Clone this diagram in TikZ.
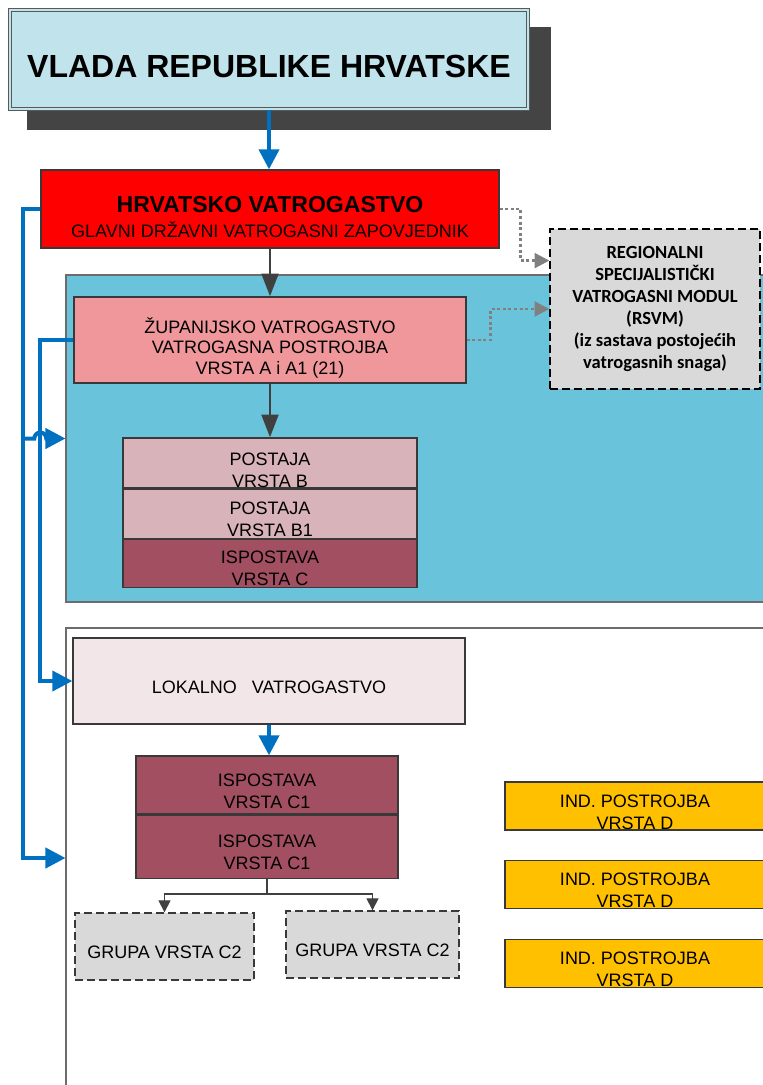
\documentclass[tikz,border=0pt]{standalone}
\usepackage{fontspec}
\setmainfont{Liberation Sans}
\newfontfamily\calfont{Carlito}
\usetikzlibrary{arrows.meta,calc,positioning}
\definecolor{vladablue}{HTML}{C1E4EC}
\definecolor{shadowgray}{HTML}{444444}
\definecolor{panelblue}{HTML}{69C4DB}
\definecolor{zuppink}{HTML}{F0979B}
\definecolor{postajapink}{HTML}{D9B3BA}
\definecolor{ispostava}{HTML}{A34F62}
\definecolor{lokalpink}{HTML}{F2E6E9}
\definecolor{grupagray}{HTML}{D9D9D9}
\definecolor{indyellow}{HTML}{FFC000}
\definecolor{linkblue}{HTML}{0070C0}
\definecolor{darkline}{HTML}{404040}
\newcommand\lowline[1]{\rule{0pt}{#1}}
\tikzset{>=latex,sunk/.style={execute at begin node={\rule{0pt}{#1}}}}
\tikzstyle{panel}=[rectangle,draw=gray!85!black,line width=0.8pt,inner sep=0pt]
\tikzstyle{box}=[rectangle,draw=gray!45!black,line width=1pt,inner sep=0pt,align=center,font=\fontsize{13.5}{16.5}\selectfont]
\tikzstyle{unit}=[box,sunk=18.7pt]
\tikzstyle{dashbox}=[unit,dash pattern=on 6pt off 3pt]
\tikzstyle{bluelink}=[draw=linkblue,line width=3pt,-{Triangle[length=15pt,width=15pt]}]
\tikzstyle{graylink}=[draw=darkline,line width=2.2pt,-{Triangle[length=17pt,width=12.5pt]}]
\tikzstyle{dotlink}=[draw=gray,line width=2.2pt,dash pattern=on 2.2pt off 2pt,-{Triangle[length=11pt,width=11pt]}]
\tikzstyle{thinlink}=[draw=darkline,line width=0.9pt,-{Triangle[length=9pt,width=9pt]}]

\begin{document}
\begin{tikzpicture}[x=0.75pt,y=-0.75pt]
\def \pix {0.75pt};
\def \drop {15};

\useasboundingbox (0,0) rectangle (763,1085);

\node[panel,fill=panelblue,minimum width=709*\pix,minimum height=327*\pix] (zupPanel) at (420.5,438.5) {};
\node[panel,fill=white,minimum width=709*\pix,minimum height=460*\pix] (lokPanel) at (420.5,858) {};

\fill[shadowgray] (27,27) rectangle (551,130);
\node[box,fill=vladablue,draw=gray!70!black,double=vladablue,double distance=1.6pt,line width=0.9pt,minimum width=518*\pix,minimum height=99*\pix,font=\fontsize{24}{28}\selectfont\bfseries,sunk=27pt] (vlada) at (269,59.5) {VLADA REPUBLIKE HRVATSKE};

\node[box,fill=red,minimum width=458*\pix,minimum height=78*\pix] (hvz) at (270,209)
    {{\fontsize{17.3}{20}\selectfont\bfseries\lowline{23.7pt}HRVATSKO VATROGASTVO}\\[2.5pt]GLAVNI DRŽAVNI VATROGASNI ZAPOVJEDNIK};

\node[box,dash pattern=on 6pt off 3pt,draw=black,fill=grupagray,minimum width=210*\pix,minimum height=160*\pix,font=\calfont\bfseries\fontsize{13.9}{16.5}\selectfont] (rsvm) at (655,309)
    {REGIONALNI\\SPECIJALISTIČKI\\VATROGASNI MODUL\\(RSVM)\\(iz sastava postojećih\\vatrogasnih snaga)};

\node[box,fill=zuppink,minimum width=392*\pix,minimum height=86*\pix] (zup) at (270,340)
    {\lowline{23.4pt}ŽUPANIJSKO VATROGASTVO\\[-1.1pt]VATROGASNA POSTROJBA\\[-1.1pt]VRSTA A i A1 (21)};

\node[box,fill=postajapink,minimum width=294*\pix,minimum height=50*\pix] (postB) at (270,463) {\lowline{20.2pt}POSTAJA\\VRSTA B};
\node[box,fill=postajapink,minimum width=294*\pix,minimum height=49*\pix,below=0pt of postB] (postB1) {\lowline{17.2pt}POSTAJA\\VRSTA B1};
\node[box,fill=ispostava,minimum width=294*\pix,minimum height=48*\pix,below=0pt of postB1] (ispC) {\lowline{15.7pt}ISPOSTAVA\\VRSTA C};

\node[unit,fill=lokalpink,minimum width=392*\pix,minimum height=86*\pix] (lokal) at (269,681) {LOKALNO~~~VATROGASTVO};

\node[box,fill=ispostava,minimum width=262*\pix,minimum height=58*\pix] (ispC1a) at (267,785) {\lowline{18.7pt}ISPOSTAVA\\VRSTA C1};
\node[box,fill=ispostava,minimum width=262*\pix,minimum height=63*\pix,below=0pt of ispC1a] (ispC1b) {\lowline{17.2pt}ISPOSTAVA\\VRSTA C1};

\node[dashbox,fill=grupagray,minimum width=179*\pix,minimum height=67*\pix] (grupa1) at (164.5,946.5) {GRUPA VRSTA C2};
\node[dashbox,fill=grupagray,minimum width=173*\pix,minimum height=67*\pix] (grupa2) at (372.5,944.5) {GRUPA VRSTA C2};

\foreach \i/\y in {1/806,2/884.5,3/963.5} {
    \node[box,fill=indyellow,minimum width=260*\pix,minimum height=48*\pix] (ind\i) at (635,\y) {\lowline{18.7pt}IND. POSTROJBA\\VRSTA D};
};

\draw[bluelink] (vlada.south) -- (vlada.south |- hvz.north);
\draw[graylink] (hvz.south) -- (zup.north);
\draw[graylink] (zup.south) -- (postB.north);

\draw[dotlink] (hvz.east) -- ++(21,0) |- ($(rsvm.north west)!0.2!(rsvm.south west)$);
\draw[dotlink] (zup.east) -- ++(24,0) |- (rsvm.west);

\coordinate (trunk) at ($(hvz.west)+(-17,0)$);
\draw[bluelink] (hvz.west) -- (trunk) |- (lokPanel.west);
\draw[bluelink] (zup.west) -- ++(-33,0) |- (lokal.west);
\draw[bluelink] (trunk |- zupPanel.west) -- ++(11,0) arc[start angle=180,end angle=360,radius=6] -- (zupPanel.west);

\draw[bluelink] (lokal.south) -- (lokal.south |- ispC1a.north);

\draw[thinlink] (ispC1b.south) -- ++(0,\drop) -| (grupa1.north);
\draw[thinlink] (ispC1b.south) -- ++(0,\drop) -| (grupa2.north);

\end{tikzpicture}
\end{document}
